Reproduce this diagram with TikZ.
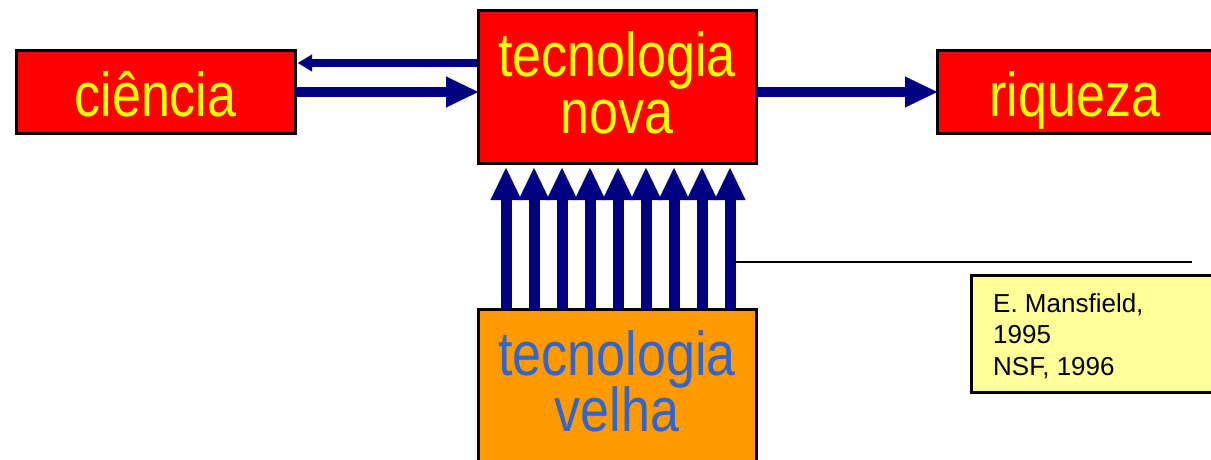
\documentclass[tikz,border=0pt]{standalone}
\usepackage{fontspec}
\setmainfont{Liberation Sans}
\newfontfamily\narrowfont[FakeStretch=0.84]{Liberation Sans}
\usetikzlibrary{arrows.meta}
\definecolor{boxred}{RGB}{255,0,0}
\definecolor{boxorange}{RGB}{255,153,0}
\definecolor{boxyellow}{RGB}{255,255,153}
\definecolor{txtyellow}{RGB}{255,255,0}
\definecolor{txtblue}{RGB}{51,102,204}
\definecolor{navyarrow}{RGB}{0,0,128}
\begin{document}
\begin{tikzpicture}[x=1pt,y=-1pt,
  box/.style={draw=black, line width=3pt, rectangle, outer sep=0pt, inner sep=0pt},
  bigtext/.style={font=\narrowfont\fontsize{62}{62}\selectfont, inner sep=0pt, anchor=base},
  smalltext/.style={font=\fontsize{26}{31}\selectfont, inner sep=0pt, anchor=base west, text=black},
  fatarrow/.style={draw=navyarrow, line width=10pt, -{Triangle[length=32pt,width=31pt,line width=0.01pt]}},
  slimarrow/.style={draw=navyarrow, line width=8pt, -{Triangle[length=14pt,width=17pt,line width=0.01pt]}},
  uparrow/.style={draw=navyarrow, line width=11pt, -{Triangle[length=32pt,width=31pt,line width=0.01pt]}},
]
\useasboundingbox (0,0) rectangle (1211,460);
\clip (0,0) rectangle (1211,460);
\fill[white] (0,0) rectangle (1211,460);

% boxes
\node[box, fill=boxred, minimum width=279pt, minimum height=82pt] (ciencia) at (155.5,92) {};
\node[box, fill=boxred, minimum width=278pt, minimum height=152pt] (nova) at (617,87) {};
\node[box, fill=boxred, minimum width=320pt, minimum height=82pt] (riqueza) at (1097,92) {};
\node[box, fill=boxorange, minimum width=278pt, minimum height=171pt] (velha) at (617,394.5) {};
\node[box, fill=boxyellow, minimum width=300pt, minimum height=117pt] (ref) at (1121,333.5) {};

% texts
\node[bigtext, text=txtyellow] (tciencia) at (155.5,117) {ciência};
\node[bigtext, text=txtyellow] (tnova1) at (617,77) {tecnologia};
\node[bigtext, text=txtyellow] (tnova2) at (617,133) {nova};
\node[bigtext, text=txtyellow] (triqueza) at (1075,117) {riqueza};
\node[bigtext, text=txtblue] (tvelha1) at (617,375) {tecnologia};
\node[bigtext, text=txtblue] (tvelha2) at (617,431) {velha};
\node[smalltext] (r1) at (993,312) {E. Mansfield,};
\node[smalltext] (r2) at (993,343) {1995};
\node[smalltext] (r3) at (993,375) {NSF, 1996};

% horizontal arrows
\draw[slimarrow, shorten >=3pt] (nova.west |- 0,63) -- (ciencia.east |- 0,63);
\draw[fatarrow] (ciencia.east) -- (nova.west |- ciencia.east);
\draw[fatarrow] (nova.east |- riqueza.west) -- (riqueza.west);

% vertical arrows
\foreach \k in {0,...,8} {
  \draw[uparrow, shorten >=5pt] ([xshift={28pt+28pt*\k}]velha.north west) -- ([xshift={28pt+28pt*\k}]nova.south west);
}

% black line
\coordinate (lstart) at (735,262);
\coordinate (lend) at (1192,262);
\draw[black, line width=2.5pt] (lstart) -- (lend);
\end{tikzpicture}
\end{document}
